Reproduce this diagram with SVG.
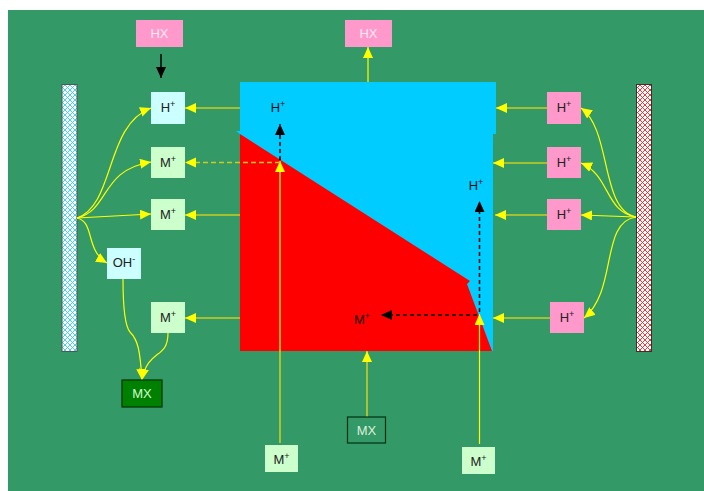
<svg xmlns="http://www.w3.org/2000/svg" width="704" height="491" viewBox="0 0 704 491">
<defs>
<style>
.lbl{font-family:"Liberation Sans",Arial,sans-serif;font-size:13px;fill:#222;text-anchor:middle}
.sup{font-size:9px}
.yl{stroke:#ffff00;stroke-width:1.2;fill:none}
.yh{stroke:#cccc22;stroke-width:1.6;fill:none}
.bd{stroke:#000;stroke-width:1.5;stroke-dasharray:4,3;fill:none}
</style>
<marker id="ya" markerUnits="userSpaceOnUse" markerWidth="12" markerHeight="11" refX="11" refY="5" orient="auto"><path d="M0,0 L11,5 L0,10 z" fill="#ffff00"/></marker>
<marker id="ba" markerUnits="userSpaceOnUse" markerWidth="12" markerHeight="11" refX="11" refY="5" orient="auto"><path d="M0,0 L11,5 L0,10 z" fill="#000"/></marker>
<pattern id="hc" width="5" height="5" patternUnits="userSpaceOnUse"><rect width="5" height="5" fill="#fff"/><path d="M0,0 L5,5 M5,0 L0,5" stroke="#33ccee" stroke-width="0.9"/></pattern>
<pattern id="hr" width="5" height="5" patternUnits="userSpaceOnUse"><rect width="5" height="5" fill="#fff"/><path d="M0,0 L5,5 M5,0 L0,5" stroke="#ee2222" stroke-width="0.9"/></pattern>
</defs>
<rect x="8" y="10" width="696" height="481" fill="#339966"/>

<g id="membrane-left"><rect x="62" y="84.5" width="15" height="267" fill="url(#hc)" stroke="#555" stroke-width="1"/></g>
<g id="membrane-right"><rect x="636.5" y="84.5" width="15" height="267" fill="url(#hr)" stroke="#333" stroke-width="1"/></g>

<g id="resin">
<rect x="240" y="82" width="256" height="52" fill="#00ccff"/>
<rect x="240" y="133" width="253" height="218" fill="#00ccff"/>
<polygon points="236,131 241,131 241,135" fill="#00ccff"/>
<polygon points="240,134 470,281 467,284 492,351 240,351" fill="#ff0000"/>
</g>

<g id="connectors">
<line x1="161" y1="54" x2="161" y2="78" stroke="#000" stroke-width="1.5" marker-end="url(#ba)"/>
<line x1="368" y1="82" x2="368" y2="47" class="yl" marker-end="url(#ya)"/>
<line x1="367" y1="417" x2="367" y2="351" class="yh" marker-end="url(#ya)"/>
<line x1="280" y1="443" x2="280" y2="161" class="yh" marker-end="url(#ya)"/>
<line x1="479.5" y1="444" x2="479.5" y2="314" class="yl" marker-end="url(#ya)"/>
<line x1="280" y1="160" x2="280" y2="124" class="bd" marker-end="url(#ba)"/>
<line x1="479.5" y1="312" x2="479.5" y2="201" class="bd" marker-end="url(#ba)"/>
<line x1="477" y1="315" x2="381" y2="315" class="bd" marker-end="url(#ba)"/>
<line x1="240" y1="108" x2="185" y2="108" class="yh" marker-end="url(#ya)"/>
<line x1="280" y1="162.5" x2="185" y2="162.5" class="yh" stroke-dasharray="5,3" marker-end="url(#ya)"/>
<line x1="240" y1="215" x2="185" y2="215" class="yh" marker-end="url(#ya)"/>
<line x1="240" y1="318" x2="185" y2="318" class="yh" marker-end="url(#ya)"/>
<line x1="547" y1="108" x2="496" y2="108" class="yh" marker-end="url(#ya)"/>
<line x1="547" y1="163" x2="493" y2="163" class="yh" marker-end="url(#ya)"/>
<line x1="547" y1="215" x2="495" y2="215" class="yh" marker-end="url(#ya)"/>
<line x1="550" y1="318" x2="493" y2="318" class="yh" marker-end="url(#ya)"/>
<path d="M77,218 C115,205 105,125 151,108" class="yl" marker-end="url(#ya)"/>
<path d="M77,218 C110,210 100,170 151,162" class="yl" marker-end="url(#ya)"/>
<path d="M77,218 L151,214" class="yl" marker-end="url(#ya)"/>
<path d="M77,218 C95,222 85,250 107,263" class="yl" marker-end="url(#ya)"/>
<path d="M636,217 C600,210 612,130 581,108" class="yl" marker-end="url(#ya)"/>
<path d="M636,217 C605,212 610,175 581,163" class="yl" marker-end="url(#ya)"/>
<path d="M636,217 L581,215" class="yl" marker-end="url(#ya)"/>
<path d="M636,217 C600,222 618,290 584,318" class="yl" marker-end="url(#ya)"/>
<path d="M123,279 C123,300 124,325 130,332 C138,340 140,350 142,380" class="yl" marker-end="url(#ya)"/>
<path d="M168,333 C168,360 148,348 142,380" class="yl" marker-end="url(#ya)"/>
</g>

<g id="hx-left"><rect x="136" y="20" width="47" height="27" fill="#ff99cc"/><text x="159.5" y="38" class="lbl" style="fill:#ffe8f4">HX</text></g>
<g id="hx-top"><rect x="345" y="20" width="47" height="27" fill="#ff99cc"/><text x="368.5" y="38" class="lbl" style="fill:#ffe8f4">HX</text></g>

<g id="h-left"><rect x="151" y="92" width="34" height="32" fill="#ccffff"/><text x="168" y="112" class="lbl">H<tspan class="sup" dy="-5">+</tspan></text></g>
<g id="m-left1"><rect x="151" y="147" width="34" height="31" fill="#ccffcc"/><text x="168" y="167" class="lbl">M<tspan class="sup" dy="-5">+</tspan></text></g>
<g id="m-left2"><rect x="151" y="199" width="34" height="31" fill="#ccffcc"/><text x="168" y="219" class="lbl">M<tspan class="sup" dy="-5">+</tspan></text></g>
<g id="oh"><rect x="107" y="248" width="34" height="31" fill="#ccffff"/><text x="124" y="267" class="lbl">OH<tspan class="sup" dy="-5">-</tspan></text></g>
<g id="m-left3"><rect x="151" y="302" width="34" height="31" fill="#ccffcc"/><text x="168" y="322" class="lbl">M<tspan class="sup" dy="-5">+</tspan></text></g>
<g id="mx-left"><rect x="122" y="380" width="40" height="27" fill="#008000" stroke="#003300" stroke-width="1.2"/><text x="142" y="398" class="lbl" style="fill:#ccffcc">MX</text></g>

<g id="h-right1"><rect x="547" y="92" width="34" height="32" fill="#ff99cc"/><text x="564" y="112" class="lbl">H<tspan class="sup" dy="-5">+</tspan></text></g>
<g id="h-right2"><rect x="547" y="147" width="34" height="31" fill="#ff99cc"/><text x="564" y="167" class="lbl">H<tspan class="sup" dy="-5">+</tspan></text></g>
<g id="h-right3"><rect x="547" y="199" width="34" height="31" fill="#ff99cc"/><text x="564" y="219" class="lbl">H<tspan class="sup" dy="-5">+</tspan></text></g>
<g id="h-right4"><rect x="550" y="302" width="34" height="31" fill="#ff99cc"/><text x="567" y="322" class="lbl">H<tspan class="sup" dy="-5">+</tspan></text></g>

<g id="h-inner1"><text x="278" y="112" class="lbl" style="fill:#111">H<tspan class="sup" dy="-5">+</tspan></text></g>
<g id="h-inner2"><text x="476" y="190" class="lbl" style="fill:#111">H<tspan class="sup" dy="-5">+</tspan></text></g>
<g id="m-inner"><text x="362" y="324" class="lbl" style="fill:#220000">M<tspan class="sup" dy="-5">+</tspan></text></g>

<g id="mx-center"><rect x="347.5" y="417" width="38" height="26" fill="none" stroke="#003311" stroke-width="1.2"/><text x="366.5" y="435" class="lbl" style="fill:#ddeedd">MX</text></g>
<g id="m-bottom1"><rect x="265" y="445" width="33" height="27" fill="#ccffcc"/><text x="281.5" y="464" class="lbl">M<tspan class="sup" dy="-5">+</tspan></text></g>
<g id="m-bottom2"><rect x="462" y="447" width="33" height="27" fill="#ccffcc"/><text x="478.5" y="466" class="lbl">M<tspan class="sup" dy="-5">+</tspan></text></g>
</svg>
